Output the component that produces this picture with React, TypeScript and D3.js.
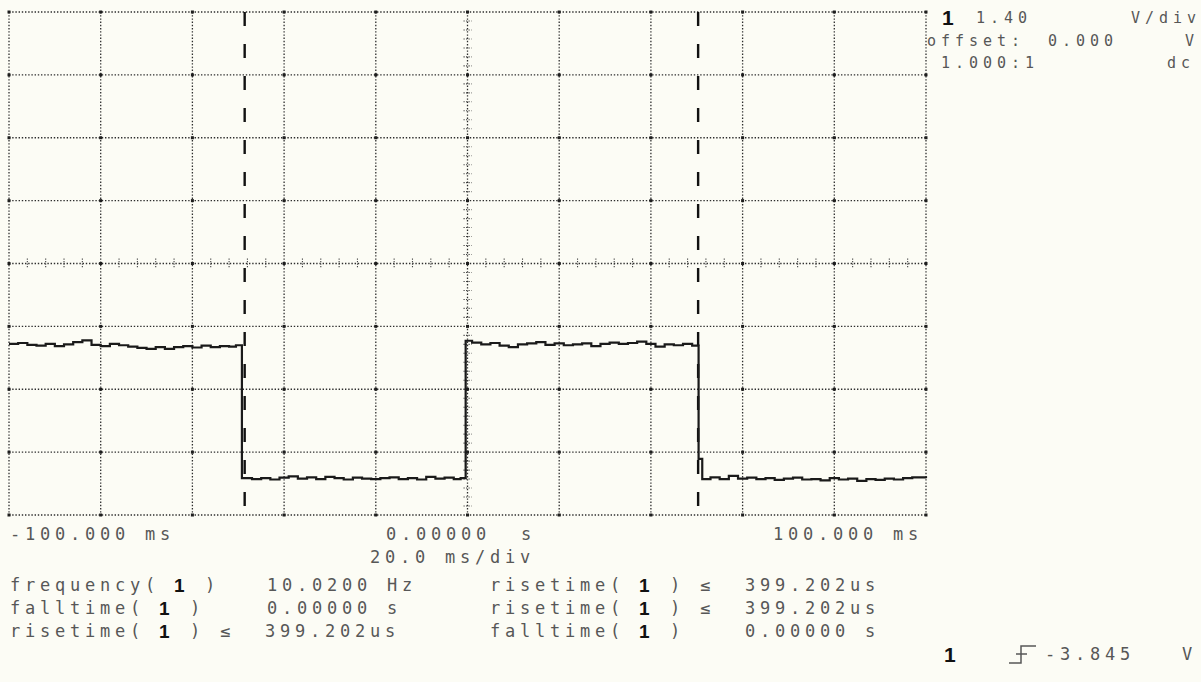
import React from 'react';
import * as d3 from 'd3';

// Scope settings
const timeDivs = d3.range(-100, 101, 20); // ms, one line per division
const voltDivs = d3.range(-4, 5).map(d => d * 1.4); // V, 1.40 V/div
const markerTimes = [-48.6, 50.3]; // ms

// Trace: [ms, V]
const highA: [number, number][] = [
  [-100, -1.79], [-98, -1.77], [-96, -1.81], [-94, -1.83], [-92, -1.79], [-90, -1.84],
  [-88, -1.8], [-86, -1.75], [-84, -1.71], [-82, -1.81], [-80, -1.84], [-78, -1.79],
  [-76, -1.82], [-74, -1.85], [-72, -1.88], [-70, -1.9], [-68, -1.86], [-66, -1.9],
  [-64, -1.86], [-62, -1.84], [-60, -1.87], [-58, -1.83], [-56, -1.86], [-54, -1.84],
  [-52, -1.85], [-50.5, -1.82],
];
const lowA: [number, number][] = [
  [-49.2, -4.78], [-47, -4.8], [-45, -4.78], [-43, -4.81], [-41, -4.77], [-39, -4.74],
  [-37, -4.79], [-35, -4.76], [-33, -4.8], [-31, -4.75], [-29, -4.78], [-27, -4.81],
  [-25, -4.77], [-23, -4.79], [-21, -4.8], [-19, -4.78], [-17, -4.76], [-15, -4.8],
  [-13, -4.78], [-11, -4.81], [-9, -4.75], [-7, -4.79], [-5, -4.77], [-3, -4.8], [-1.5, -4.78],
];
const highB: [number, number][] = [
  [-0.4, -1.72], [1, -1.76], [3, -1.8], [5, -1.77], [7, -1.83], [9, -1.86], [11, -1.8],
  [13, -1.78], [15, -1.75], [17, -1.81], [19, -1.78], [21, -1.82], [23, -1.8], [25, -1.78],
  [27, -1.84], [29, -1.79], [31, -1.76], [33, -1.79], [35, -1.77], [37, -1.74], [39, -1.79],
  [41, -1.85], [43, -1.8], [45, -1.82], [47, -1.79], [49, -1.83],
];
const lowB: [number, number][] = [
  [50.4, -4.35], [51.2, -4.8], [53, -4.76], [55, -4.8], [57, -4.73], [59, -4.79], [61, -4.77],
  [63, -4.8], [65, -4.78], [67, -4.82], [69, -4.79], [71, -4.77], [73, -4.81], [75, -4.8],
  [77, -4.83], [79, -4.78], [81, -4.81], [83, -4.79], [85, -4.84], [87, -4.8], [89, -4.82],
  [91, -4.79], [93, -4.81], [95, -4.78], [97, -4.76], [100, -4.78],
];

// Texts
const chanInfo = ['1.40', 'V/div', 'offset:', '0.000', 'V', '1.000:1', 'dc'];
const timeLabels = ['-100.000 ms', '0.00000', 's', '100.000 ms', '20.0 ms/div'];
const measRows = [
  [{ name: 'frequency', le: false, value: '10.0200 Hz' }, { name: 'risetime', le: true, value: '399.202us' }],
  [{ name: 'falltime', le: false, value: '0.00000 s' }, { name: 'risetime', le: true, value: '399.202us' }],
  [{ name: 'risetime', le: true, value: '399.202us' }, { name: 'falltime', le: false, value: '0.00000 s' }],
];
const trigLevel = '-3.845';

const W = 1201;
const H = 682;
const P = 15; // character pitch of the printout
const FS = 17;
const LS = `${P - 0.602 * FS}px`;
const mono = '"DejaVu Sans Mono", monospace';
const boldFont = '"Liberation Sans", Arial, sans-serif';
const ink = '#575757';

function Meas({ x, y, name, le }: { x: number; y: number; name: string; le: boolean }) {
  const n = name.length + 1;
  return (
    <g>
      <text x={x} y={y}>{name + '('}</text>
      <text x={x + (n + 1) * P - 1} y={y + 1} fontFamily={boldFont} fontWeight="bold" fontSize={19} fill="#111">1</text>
      <text x={x + (n + 3) * P} y={y}>)</text>
      {le && <text x={x + (n + 5) * P} y={y}>≤</text>}
    </g>
  );
}

export default function App() {
  const x = d3.scaleLinear().domain([-100, 100]).range([9, 926]);
  const y = d3.scaleLinear().domain([-5.6, 5.6]).range([515, 12]);

  const line = d3.line<[number, number]>()
    .x(d => x(d[0]))
    .y(d => y(d[1]))
    .curve(d3.curveStepAfter);
  const trace = [...highA, ...lowA, ...highB, ...lowB];

  const minorT = d3.range(-100, 100.1, 4).filter(t => t % 20 !== 0);
  const minorV = d3.range(-28, 29, 1).map(i => i * 0.2)
    .filter(v => Math.abs(v / 1.4 - Math.round(v / 1.4)) > 0.01);

  const colX = [10, 267, 490];
  const rowY = [591, 614, 637];

  return (
    <svg width={W} height={H} style={{ position: 'absolute', left: 0, top: 0, display: 'block' }}
      fontFamily={mono} fontSize={FS} fill={ink}>
      <rect width={W} height={H} fill="#fcfcf5" />

      {/* dotted graticule */}
      <g stroke="#2e2e2e" strokeWidth={1.3} strokeDasharray="1.4 1.8">
        {timeDivs.map(t => (
          <line key={'v' + t} x1={x(t)} x2={x(t)} y1={y(5.6)} y2={y(-5.6)} />
        ))}
        {voltDivs.map(v => (
          <line key={'h' + v} x1={x(-100)} x2={x(100)} y1={y(v)} y2={y(v)} />
        ))}
      </g>
      <g fill="#1e1e1e">
        {timeDivs.map(t => voltDivs.map(v => (
          <rect key={t + '_' + v} x={x(t) - 1.5} y={y(v) - 1.5} width={3} height={3} />
        )))}
      </g>
      {/* minor ticks on the centre lines */}
      <g stroke="#444" strokeWidth={1.1} strokeDasharray="1.2 1.3">
        {minorT.map(t => (
          <line key={'mt' + t} x1={x(t)} x2={x(t)} y1={y(0) - 5} y2={y(0) + 5} />
        ))}
        {minorV.map(v => (
          <line key={'mv' + v} x1={x(0) - 4} x2={x(0) + 4} y1={y(v)} y2={y(v)} />
        ))}
      </g>

      {/* time markers */}
      <g stroke="#111" strokeWidth={2.4} strokeDasharray="14 18">
        {markerTimes.map(t => (
          <line key={t} x1={x(t)} x2={x(t)} y1={y(5.6)} y2={y(-5.6)} />
        ))}
      </g>

      <path d={line(trace) || ''} fill="none" stroke="#1a1a1a" strokeWidth={2.2} />

      {/* channel info */}
      <text x={942} y={25} fontFamily={boldFont} fontWeight="bold" fontSize={21} fill="#111">1</text>
      <g fontSize={15} style={{ letterSpacing: `${14 - 0.602 * 15}px` }}>
        <text x={976} y={23}>{chanInfo[0]}</text>
        <text x={1131} y={23}>{chanInfo[1]}</text>
        <text x={927} y={46}>{chanInfo[2]}</text>
        <text x={1048} y={46}>{chanInfo[3]}</text>
        <text x={1185} y={46}>{chanInfo[4]}</text>
        <text x={941} y={68}>{chanInfo[5]}</text>
        <text x={1167} y={68}>{chanInfo[6]}</text>
      </g>

      {/* time base */}
      <g style={{ letterSpacing: LS }}>
        <text x={10} y={540}>{timeLabels[0]}</text>
        <text x={386} y={540}>{timeLabels[1]}</text>
        <text x={521} y={540}>{timeLabels[2]}</text>
        <text x={773} y={540}>{timeLabels[3]}</text>
        <text x={370} y={563}>{timeLabels[4]}</text>
      </g>

      {/* measurements */}
      <g style={{ letterSpacing: LS }}>
        {measRows.map((row, r) => {
          const [a, b] = row;
          const aValX = a.le ? colX[0] + 17 * P : colX[1];
          return (
            <g key={r}>
              <Meas x={colX[0]} y={rowY[r]} name={a.name} le={a.le} />
              <text x={aValX} y={rowY[r]}>{a.value}</text>
              <Meas x={colX[2]} y={rowY[r]} name={b.name} le={b.le} />
              <text x={colX[2] + 17 * P} y={rowY[r]}>{b.value}</text>
            </g>
          );
        })}
      </g>

      {/* trigger */}
      <text x={944} y={662} fontFamily={boldFont} fontWeight="bold" fontSize={21} fill="#111">1</text>
      <path d="M1009,663 H1021 V646 H1036 M1016,654 H1027" fill="none" stroke={ink} strokeWidth={1.5} />
      <text x={1045} y={660} style={{ letterSpacing: LS }}>{trigLevel}</text>
      <text x={1182} y={660}>V</text>
    </svg>
  );
}
